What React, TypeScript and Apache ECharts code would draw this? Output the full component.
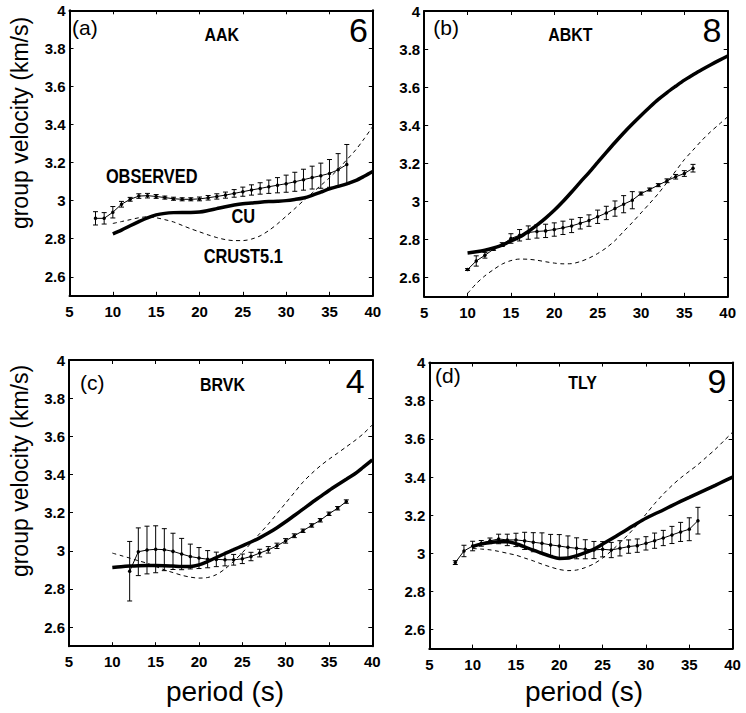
import React, { useEffect, useRef } from "react";
import * as echarts from "echarts";

// ---------- data ----------
const yTickValues = [2.6, 2.8, 3, 3.2, 3.4, 3.6, 3.8, 4];
const modelPeriods = [10, 11, 12, 13, 14, 15, 16, 17, 18, 19, 20, 21, 22, 23, 24, 25, 26, 27, 28, 29, 30, 31, 32, 33, 34, 35, 36, 37, 38, 39, 40];

// (a) AAK
const obsPeriodsA = [8, 9, 10, 11, 12, 13, 14, 15, 16, 17, 18, 19, 20, 21, 22, 23, 24, 25, 26, 27, 28, 29, 30, 31, 32, 33, 34, 35, 36, 37];
const obsVelA = [2.907, 2.907, 2.939, 2.981, 3.007, 3.024, 3.026, 3.022, 3.016, 3.01, 3.007, 3.007, 3.009, 3.015, 3.022, 3.029, 3.038, 3.047, 3.056, 3.064, 3.073, 3.081, 3.089, 3.099, 3.11, 3.121, 3.131, 3.143, 3.162, 3.19];
const obsErrA = [0.035, 0.03, 0.03, 0.015, 0.01, 0.012, 0.012, 0.01, 0.008, 0.008, 0.008, 0.008, 0.01, 0.012, 0.014, 0.016, 0.02, 0.024, 0.027, 0.03, 0.035, 0.04, 0.045, 0.05, 0.055, 0.06, 0.066, 0.073, 0.085, 0.105];
const cuA = [2.825, 2.845, 2.868, 2.89, 2.91, 2.925, 2.933, 2.937, 2.938, 2.938, 2.94, 2.948, 2.958, 2.968, 2.977, 2.984, 2.988, 2.992, 2.995, 2.997, 3.0, 3.006, 3.014, 3.028, 3.045, 3.062, 3.075, 3.088, 3.105, 3.128, 3.153];
const crustA = [2.88, 2.89, 2.9, 2.91, 2.915, 2.91, 2.9, 2.888, 2.87, 2.852, 2.836, 2.82, 2.806, 2.795, 2.79, 2.79, 2.798, 2.815, 2.843, 2.878, 2.918, 2.958, 3.0, 3.04, 3.08, 3.12, 3.165, 3.215, 3.265, 3.325, 3.39];

// (b) ABKT
const obsPeriodsB = [10, 11, 12, 13, 14, 15, 16, 17, 18, 19, 20, 21, 22, 23, 24, 25, 26, 27, 28, 29, 30, 31, 32, 33, 34, 35, 36];
const obsVelB = [2.643, 2.688, 2.718, 2.75, 2.774, 2.806, 2.823, 2.837, 2.843, 2.846, 2.853, 2.862, 2.872, 2.886, 2.9, 2.92, 2.94, 2.963, 2.986, 3.007, 3.042, 3.063, 3.086, 3.109, 3.13, 3.147, 3.175];
const obsErrB = [0.005, 0.027, 0.015, 0.006, 0.01, 0.025, 0.03, 0.035, 0.035, 0.035, 0.035, 0.035, 0.035, 0.03, 0.03, 0.035, 0.035, 0.04, 0.045, 0.045, 0.008, 0.008, 0.008, 0.01, 0.012, 0.015, 0.02];
const cuB = [2.73, 2.736, 2.744, 2.756, 2.771, 2.793, 2.814, 2.843, 2.876, 2.913, 2.954, 3.0, 3.05, 3.102, 3.152, 3.205, 3.258, 3.31, 3.36, 3.407, 3.452, 3.495, 3.536, 3.572, 3.605, 3.637, 3.665, 3.692, 3.717, 3.741, 3.764];
const crustB = [2.517, 2.569, 2.61, 2.643, 2.672, 2.69, 2.698, 2.697, 2.692, 2.684, 2.677, 2.673, 2.674, 2.685, 2.703, 2.727, 2.757, 2.795, 2.843, 2.89, 2.94, 2.99, 3.042, 3.1, 3.16, 3.22, 3.27, 3.32, 3.365, 3.405, 3.445];

// (c) BRVK
const obsPeriodsC = [12, 13, 14, 15, 16, 17, 18, 19, 20, 21, 22, 23, 24, 25, 26, 27, 28, 29, 30, 31, 32, 33, 34, 35, 36, 37];
const obsVelC = [2.893, 2.995, 3.004, 3.008, 3.006, 2.997, 2.983, 2.97, 2.962, 2.956, 2.955, 2.953, 2.953, 2.958, 2.97, 2.988, 3.005, 3.026, 3.052, 3.079, 3.105, 3.133, 3.16, 3.194, 3.223, 3.258];
const obsErrC = [0.156, 0.125, 0.125, 0.123, 0.11, 0.095, 0.082, 0.065, 0.055, 0.045, 0.038, 0.032, 0.028, 0.025, 0.022, 0.02, 0.017, 0.014, 0.012, 0.01, 0.009, 0.009, 0.009, 0.009, 0.009, 0.009];
const cuC = [2.913, 2.917, 2.92, 2.922, 2.923, 2.923, 2.922, 2.92, 2.918, 2.918, 2.926, 2.944, 2.965, 2.986, 3.006, 3.026, 3.046, 3.068, 3.093, 3.121, 3.152, 3.185, 3.218, 3.252, 3.284, 3.316, 3.346, 3.375, 3.404, 3.44, 3.476];
const crustC = [2.988, 2.975, 2.962, 2.948, 2.935, 2.918, 2.9, 2.886, 2.872, 2.862, 2.857, 2.86, 2.875, 2.905, 2.945, 2.99, 3.04, 3.09, 3.14, 3.195, 3.25, 3.305, 3.36, 3.405, 3.445, 3.48, 3.512, 3.545, 3.578, 3.615, 3.66];

// (d) TLY
const obsPeriodsD = [8, 9, 10, 11, 12, 13, 14, 15, 16, 17, 18, 19, 20, 21, 22, 23, 24, 25, 26, 27, 28, 29, 30, 31, 32, 33, 34, 35, 36];
const obsVelD = [2.951, 3.012, 3.038, 3.052, 3.065, 3.075, 3.07, 3.07, 3.065, 3.058, 3.052, 3.044, 3.038, 3.031, 3.026, 3.021, 3.017, 3.021, 3.017, 3.026, 3.035, 3.04, 3.052, 3.066, 3.08, 3.096, 3.112, 3.126, 3.171];
const obsErrD = [0.01, 0.03, 0.025, 0.015, 0.015, 0.025, 0.03, 0.035, 0.045, 0.05, 0.055, 0.055, 0.06, 0.06, 0.055, 0.05, 0.045, 0.04, 0.04, 0.04, 0.035, 0.035, 0.035, 0.04, 0.04, 0.045, 0.05, 0.06, 0.07];
const cuD = [3.035, 3.049, 3.057, 3.061, 3.061, 3.05, 3.034, 3.016, 3.0, 2.984, 2.973, 2.975, 2.987, 3.003, 3.022, 3.048, 3.075, 3.102, 3.13, 3.158, 3.184, 3.206, 3.227, 3.25, 3.272, 3.293, 3.314, 3.335, 3.356, 3.378, 3.399];
const crustD = [3.025, 3.022, 3.018, 3.01, 3.0, 2.99, 2.975, 2.96, 2.943, 2.928, 2.915, 2.909, 2.912, 2.925, 2.945, 2.975, 3.012, 3.055, 3.1, 3.15, 3.205, 3.26, 3.31, 3.355, 3.395, 3.43, 3.465, 3.505, 3.545, 3.59, 3.635];

const panelLetters = ["(a)", "(b)", "(c)", "(d)"];
const stationNames = ["AAK", "ABKT", "BRVK", "TLY"];
const stationCounts = ["6", "8", "4", "9"];
const curveLabels = ["OBSERVED", "CU", "CRUST5.1"];
const yTitle = "group velocity (km/s)";
const xTitle = "period (s)";

// ---------- layout ----------
const FONT = "'Liberation Sans', Arial, Helvetica, sans-serif";

const grids = [
  { left: 69.5, top: 10.3, width: 303.3, height: 285.5 },
  { left: 424.2, top: 11, width: 303.5, height: 285.8 },
  { left: 69, top: 360, width: 303.3, height: 286.2 },
  { left: 429.3, top: 362.6, width: 303.3, height: 286 },
];

const panels = [
  { obsP: obsPeriodsA, obsV: obsVelA, obsE: obsErrA, cu: cuA, crust: crustA },
  { obsP: obsPeriodsB, obsV: obsVelB, obsE: obsErrB, cu: cuB, crust: crustB },
  { obsP: obsPeriodsC, obsV: obsVelC, obsE: obsErrC, cu: cuC, crust: crustC },
  { obsP: obsPeriodsD, obsV: obsVelD, obsE: obsErrD, cu: cuD, crust: crustD },
];

const letterPos = [[72, 27], [433.3, 27], [80, 382], [435, 375]];
const namePos = [[221.7, 35], [570.3, 35], [222.5, 385], [582.5, 382.5]];
const countPos = [[368, 30], [721.5, 30], [364.7, 380.5], [726.5, 381]];
const curveLabelPos = [[151.7, 175.8], [243.3, 215.8], [243.3, 255.8]];

function buildOption() {
  const xAxis: any[] = [];
  const yAxis: any[] = [];
  const series: any[] = [];
  const axisLine = { show: true, onZero: false, lineStyle: { color: "#000", width: 2 } };
  const tick = { show: true, inside: true, length: 4, lineStyle: { color: "#000", width: 1 } };
  const labelStyle = { color: "#000", fontFamily: FONT, fontWeight: "bold", fontSize: 15 };

  grids.forEach((g, i) => {
    xAxis.push({
      gridIndex: i, type: "value", min: 5, max: 40, interval: 5, position: "bottom",
      axisLine, axisTick: tick, splitLine: { show: false },
      axisLabel: { ...labelStyle, margin: 8, showMinLabel: true, showMaxLabel: true },
    });
    xAxis.push({
      gridIndex: i, type: "value", min: 5, max: 40, interval: 5, position: "top",
      axisLine, axisTick: tick, splitLine: { show: false }, axisLabel: { show: false },
    });
    yAxis.push({
      gridIndex: i, type: "value", min: 2.5, max: 4, position: "left",
      axisLine, axisTick: { ...tick, customValues: yTickValues }, splitLine: { show: false },
      axisLabel: { ...labelStyle, margin: 4, customValues: yTickValues, formatter: (v: number) => String(v) },
    });
    yAxis.push({
      gridIndex: i, type: "value", min: 2.5, max: 4, position: "right",
      axisLine, axisTick: { ...tick, customValues: yTickValues }, splitLine: { show: false },
      axisLabel: { show: false, customValues: yTickValues },
    });

    const p = panels[i];
    const xi = 2 * i, yi = 2 * i;
    series.push({
      type: "line", xAxisIndex: xi, yAxisIndex: yi, symbol: "none", smooth: 0.3,
      data: modelPeriods.map((x, k) => [x, p.crust[k]]),
      lineStyle: { color: "#000", width: 1, type: [4, 3.5] }, z: 2, silent: true,
    });
    series.push({
      type: "line", xAxisIndex: xi, yAxisIndex: yi, symbol: "none", smooth: 0.3,
      data: modelPeriods.map((x, k) => [x, p.cu[k]]),
      lineStyle: { color: "#000", width: 3.5 }, z: 3, silent: true,
    });
    series.push({
      type: "custom", xAxisIndex: xi, yAxisIndex: yi, z: 4, silent: true,
      data: p.obsP.map((x, k) => [x, p.obsV[k], p.obsE[k]]),
      encode: { x: 0, y: 1 },
      renderItem: (params: any, api: any) => {
        const x = api.value(0), y = api.value(1), e = api.value(2);
        const t = api.coord([x, y + e]);
        const b = api.coord([x, y - e]);
        const w = 2.5;
        const st = { stroke: "#000", lineWidth: 1 };
        return {
          type: "group",
          children: [
            { type: "line", shape: { x1: t[0], y1: t[1], x2: b[0], y2: b[1] }, style: st },
            { type: "line", shape: { x1: t[0] - w, y1: t[1], x2: t[0] + w, y2: t[1] }, style: st },
            { type: "line", shape: { x1: b[0] - w, y1: b[1], x2: b[0] + w, y2: b[1] }, style: st },
          ],
        };
      },
    });
    series.push({
      type: "line", xAxisIndex: xi, yAxisIndex: yi, symbol: "circle", symbolSize: 3.5,
      showAllSymbol: true,
      data: p.obsP.map((x, k) => [x, p.obsV[k]]),
      lineStyle: { color: "#000", width: 1 }, itemStyle: { color: "#000" }, z: 5, silent: true,
    });
  });

  const graphic: any[] = [];
  for (let i = 0; i < 4; i++) {
    graphic.push({
      type: "text", x: letterPos[i][0], y: letterPos[i][1],
      style: { text: panelLetters[i], font: `21px ${FONT}`, fill: "#000", textAlign: "left", textVerticalAlign: "middle" },
    });
    graphic.push({
      type: "text", x: namePos[i][0], y: namePos[i][1], scaleX: 0.84,
      style: { text: stationNames[i], font: `bold 19px ${FONT}`, fill: "#000", textAlign: "center", textVerticalAlign: "middle" },
    });
    graphic.push({
      type: "text", x: countPos[i][0], y: countPos[i][1],
      style: { text: stationCounts[i], font: `34px ${FONT}`, fill: "#000", textAlign: "right", textVerticalAlign: "middle" },
    });
  }
  curveLabels.forEach((t, k) =>
    graphic.push({
      type: "text", x: curveLabelPos[k][0], y: curveLabelPos[k][1], scaleX: 0.82,
      style: { text: t, font: `bold 20px ${FONT}`, fill: "#000", textAlign: "center", textVerticalAlign: "middle" },
    })
  );
  [[20, 123], [20, 471]].forEach(([x, y]) =>
    graphic.push({
      type: "text", x, y, rotation: Math.PI / 2,
      style: { text: yTitle, font: `23px ${FONT}`, fill: "#000", textAlign: "center", textVerticalAlign: "middle" },
    })
  );
  [[225, 691.5], [584, 691.5]].forEach(([x, y]) =>
    graphic.push({
      type: "text", x, y,
      style: { text: xTitle, font: `28px ${FONT}`, fill: "#000", textAlign: "center", textVerticalAlign: "middle" },
    })
  );

  return {
    animation: false,
    backgroundColor: "#fff",
    grid: grids.map((g) => ({ ...g, containLabel: false })),
    xAxis,
    yAxis,
    series,
    graphic,
  };
}

export default function App() {
  const ref = useRef<HTMLDivElement>(null);
  useEffect(() => {
    if (!ref.current) return;
    const chart = echarts.init(ref.current, undefined, { renderer: "svg" });
    chart.setOption(buildOption() as any);
    return () => chart.dispose();
  }, []);
  return (
    <div
      ref={ref}
      style={{ position: "absolute", left: 0, top: 0, width: 746, height: 713, background: "#fff" }}
    />
  );
}
